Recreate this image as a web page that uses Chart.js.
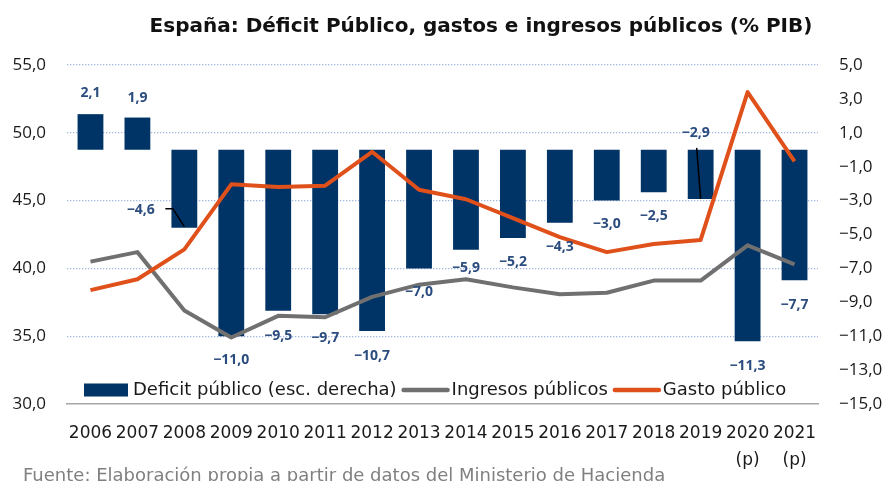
<!DOCTYPE html>
<html>
<head>
<meta charset="utf-8">
<script src="https://cdn.jsdelivr.net/npm/chart.js@4.4.0/dist/chart.umd.min.js"></script>
<style>
  html, body { margin: 0; padding: 0; background: #fff; }
</style>
</head>
<body>
<canvas id="chart" width="882" height="481"></canvas>
<script>
// -------------------------------
// Data (% PIB)
// -------------------------------
const years = ["2006", "2007", "2008", "2009", "2010", "2011", "2012", "2013",
  "2014", "2015", "2016", "2017", "2018", "2019", ["2020", "(p)"], ["2021", "(p)"]];
const deficit = [2.1, 1.9, -4.6, -11.0, -9.5, -9.7, -10.7, -7.0, -5.9, -5.2, -4.3, -3.0, -2.5, -2.9, -11.3, -7.7];
const ingresos = [40.5, 41.2, 36.9, 34.9, 36.5, 36.4, 37.9, 38.8, 39.2, 38.6, 38.1, 38.2, 39.1, 39.1, 41.7, 40.3];
const gasto = [38.4, 39.2, 41.4, 46.2, 46.0, 46.1, 48.6, 45.8, 45.1, 43.7, 42.3, 41.2, 41.8, 42.1, 53.0, 47.9];
const leftTicks = [30, 35, 40, 45, 50, 55];
const rightTicks = [5, 3, 1, -1, -3, -5, -7, -9, -11, -13, -15];

// Colors / fonts
const NAVY = "#003366";
const GRAY = "#707070";
const ORANGE = "#E0501A";
const LABEL_BLUE = "#2B4C7E";
const FONT = "'DejaVu Sans', sans-serif";
const NARROW_FONT = "'Open Sans', sans-serif";

// Label placement relative to bar end (px)
const labelOffsets = [[0, -21], [0, -20], [-43.5, -18], [0, 24], [0, 25], [0, 24], [0, 25], [0, 24],
  [0, 18], [0, 24], [0, 24], [0, 23], [0, 24], [-5, -66], [0, 24.5], [0, 24.5]];
const leaders = { 2: [[-19, -19], [-11.5, -19], [0, -1]], 13: [[-4, -51], [0, 0]] };

const fmt = (v) => v.toFixed(1).replace(".", ",").replace("-", "\u2212");

// -------------------------------
// Custom drawing: labels, title, legend, source
// -------------------------------
const decorations = {
  id: "decorations",
  afterDatasetsDraw(chart) {
    const ctx = chart.ctx;
    const meta = chart.getDatasetMeta(0);
    ctx.save();
    ctx.strokeStyle = "#000";
    ctx.lineWidth = 1.5;
    Object.entries(leaders).forEach(([i, pts]) => {
      const bar = meta.data[i];
      ctx.beginPath();
      pts.forEach(([dx, dy], k) => {
        if (k === 0) ctx.moveTo(bar.x + dx, bar.y + dy);
        else ctx.lineTo(bar.x + dx, bar.y + dy);
      });
      ctx.stroke();
    });
    ctx.font = `bold 14px ${NARROW_FONT}`;
    ctx.fillStyle = LABEL_BLUE;
    ctx.textAlign = "center";
    ctx.textBaseline = "middle";
    meta.data.forEach((bar, i) => {
      const [dx, dy] = labelOffsets[i];
      ctx.fillText(fmt(deficit[i]), bar.x + dx, bar.y + dy);
    });
    ctx.restore();
  },
  afterDraw(chart) {
    const ctx = chart.ctx;
    ctx.save();

    // Title
    ctx.font = `bold 20px ${FONT}`;
    ctx.fillStyle = "#111";
    ctx.textAlign = "center";
    ctx.textBaseline = "middle";
    ctx.fillText("España: Déficit Público, gastos e ingresos públicos (% PIB)", 481, 27);

    // Legend
    const items = [
      { text: "Deficit público (esc. derecha)", type: "box", color: NAVY },
      { text: "Ingresos públicos", type: "line", color: GRAY },
      { text: "Gasto público", type: "line", color: ORANGE },
    ];
    let x = 84;
    const y = 390;
    ctx.font = `18px ${FONT}`;
    ctx.textAlign = "left";
    items.forEach((it) => {
      if (it.type === "box") {
        ctx.fillStyle = it.color;
        ctx.fillRect(x, y - 6.5, 44, 13);
        x += 49;
      } else {
        ctx.strokeStyle = it.color;
        ctx.lineWidth = 4.5;
        ctx.lineCap = "round";
        ctx.beginPath();
        ctx.moveTo(x + 2, y);
        ctx.lineTo(x + 46, y);
        ctx.stroke();
        x += 50;
      }
      ctx.fillStyle = "#1a1a1a";
      ctx.fillText(it.text, x, y);
      x += ctx.measureText(it.text).width + 5;
    });

    // Source
    ctx.font = `18px ${FONT}`;
    ctx.fillStyle = "#808080";
    ctx.fillText("Fuente: Elaboración propia a partir de datos del Ministerio de Hacienda", 23, 476);
    ctx.restore();
  },
};

// -------------------------------
// Chart
// -------------------------------
const yTickFont = { family: NARROW_FONT, size: 17 };

new Chart(document.getElementById("chart"), {
  type: "bar",
  data: {
    labels: years,
    datasets: [
      {
        type: "bar",
        label: "Deficit público (esc. derecha)",
        data: deficit,
        yAxisID: "y2",
        backgroundColor: NAVY,
        categoryPercentage: 1,
        barPercentage: 0.55,
        order: 3,
      },
      {
        type: "line",
        label: "Ingresos públicos",
        data: ingresos,
        yAxisID: "y",
        borderColor: GRAY,
        borderWidth: 4,
        pointRadius: 0,
        tension: 0,
        borderJoinStyle: "round",
        order: 2,
      },
      {
        type: "line",
        label: "Gasto público",
        data: gasto,
        yAxisID: "y",
        borderColor: ORANGE,
        borderWidth: 4,
        pointRadius: 0,
        tension: 0,
        borderJoinStyle: "round",
        order: 1,
      },
    ],
  },
  options: {
    responsive: false,
    animation: false,
    layout: { padding: { top: 65, left: 0, right: 0, bottom: 0 } },
    plugins: {
      legend: { display: false },
      tooltip: { enabled: false },
    },
    scales: {
      x: {
        grid: { display: false },
        border: { display: true, color: "#A6A6A6", width: 1.5 },
        ticks: {
          font: { family: FONT, size: 17, lineHeight: 1.6 },
          color: "#1a1a1a",
          padding: 8,
          maxRotation: 0,
          autoSkip: false,
        },
        afterFit: (s) => { s.height = 77; },
      },
      y: {
        position: "left",
        min: 30,
        max: 55,
        afterBuildTicks: (s) => { s.ticks = leftTicks.map((v) => ({ value: v })); },
        grid: {
          drawTicks: false,
          color: (c) => (c.tick && c.tick.value === 30 ? "rgba(0,0,0,0)" : "#9FB6DF"),
          lineWidth: 1.3,
        },
        border: { display: false, dash: [1.3, 1.7] },
        ticks: { font: yTickFont, color: "#1a1a1a", padding: 21, callback: (v) => fmt(v) },
        afterFit: (s) => { s.width = 67; },
      },
      y2: {
        position: "right",
        min: -15,
        max: 5,
        afterBuildTicks: (s) => { s.ticks = rightTicks.map((v) => ({ value: v })); },
        grid: { display: false, drawTicks: false },
        border: { display: false },
        ticks: { font: yTickFont, color: "#1a1a1a", padding: 21, callback: (v) => fmt(v) },
        afterFit: (s) => { s.width = 64; },
      },
    },
  },
  plugins: [decorations],
});
</script>
</body>
</html>
